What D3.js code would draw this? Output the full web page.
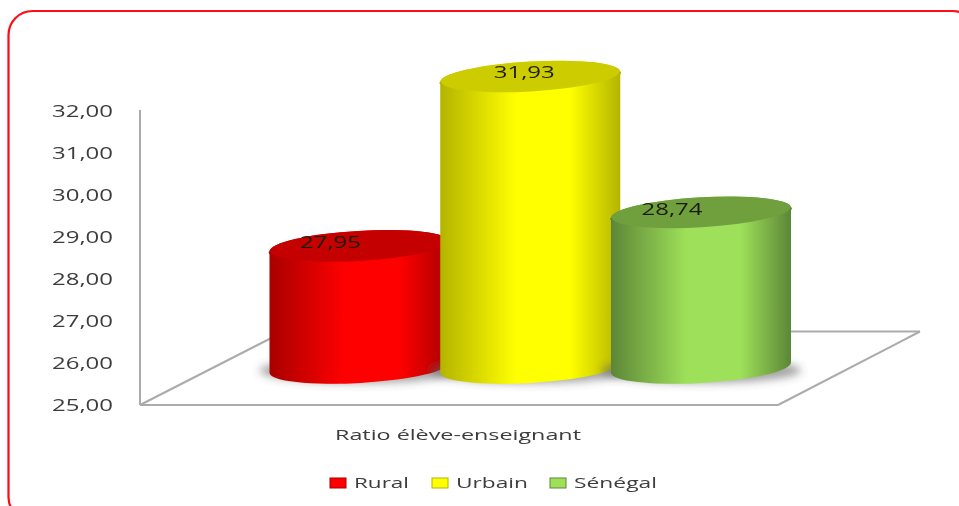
<!DOCTYPE html>
<html>
<head>
<meta charset="utf-8">
<script src="https://cdn.jsdelivr.net/npm/d3@7"></script>
<style>
  html, body { margin: 0; padding: 0; background: #fff; }
  svg { display: block; }
  text { font-family: "Open Sans", sans-serif; fill: #3c3c3c; }
</style>
</head>
<body>
<div id="chart"></div>
<script>
const categories = ["Rural", "Urbain", "Sénégal"]
const values = [27.95, 31.93, 28.74]
const valueLabels = ["27,95", "31,93", "28,74"]
const axisTicks = [25, 26, 27, 28, 29, 30, 31, 32]
const axisTitle = "Ratio élève-enseignant"

const sideEdge = ["#a80000", "#b4b400", "#5c8636"]
const sideMid = ["#ff0000", "#ffff00", "#9ee05a"]
const topFace = ["#c40000", "#cccc00", "#6f9f3e"]

function drawChart() {
  const width = 959
  const height = 506

  const wrapper = d3.select("#chart")
    .append("svg")
    .attr("width", width)
    .attr("height", height)

  const defs = wrapper.append("defs")
  defs.append("filter").attr("id", "soft")
    .append("feGaussianBlur").attr("stdDeviation", 0.6)
  defs.append("filter").attr("id", "shade")
    .attr("x", "-20%").attr("width", "140%")
    .attr("y", "-60%").attr("height", "220%")
    .append("feGaussianBlur").attr("stdDeviation", 4)

  categories.forEach((c, i) => {
    const grad = defs.append("linearGradient").attr("id", "side" + i)
    grad.append("stop").attr("offset", "0%").attr("stop-color", sideEdge[i])
    grad.append("stop").attr("offset", "42%").attr("stop-color", sideMid[i])
    grad.append("stop").attr("offset", "72%").attr("stop-color", sideMid[i])
    grad.append("stop").attr("offset", "100%").attr("stop-color", sideEdge[i])
  })

  // frame runs off the right and bottom of the picture
  wrapper.append("rect")
    .attr("x", 8.5)
    .attr("y", 11)
    .attr("width", 968)
    .attr("height", 510)
    .attr("rx", 24)
    .attr("fill", "none")
    .attr("stroke", "#ff0a14")
    .attr("stroke-width", 2.2)
    .attr("filter", "url(#soft)")

  const root = wrapper.append("g").attr("filter", "url(#soft)")

  // scales
  const axisScale = d3.scaleLinear().domain([25, 32]).range([405, 111.5])
  const barScale = d3.scaleLinear().domain([25, 32]).range([372, 74])
  const xScale = d3.scalePoint().domain(categories).range([359.5, 701])
  const barWidth = 180
  const rx = barWidth / 2
  const ry = 15.5
  const tilt = 3.3
  const lean = rx * Math.sin(tilt * Math.PI / 180)

  // floor and back wall
  const floorColor = "#ababab"
  const x0 = 140
  const y0 = 405
  const floor = [
    [[x0, 110], [x0, y0]],
    [[x0, y0], [778, y0]],
    [[778, y0], [920, 331.5]],
    [[920, 331.5], [770, 331.5]],
    [[x0, y0], [285, 331]]
  ]
  root.selectAll(".floor")
    .data(floor)
    .join("line")
    .attr("class", "floor")
    .attr("x1", d => d[0][0])
    .attr("y1", d => d[0][1])
    .attr("x2", d => d[1][0])
    .attr("y2", d => d[1][1])
    .attr("stroke", floorColor)
    .attr("stroke-width", 2)

  // y axis labels
  const yAxis = root.append("g")
    .attr("transform", "translate(113,0)")
    .call(d3.axisLeft(axisScale)
      .tickValues(axisTicks)
      .tickSize(0)
      .tickPadding(0)
      .tickFormat(d => d3.format(".2f")(d).replace(".", ",")))
  yAxis.select(".domain").remove()
  yAxis.selectAll("text")
    .style("font-size", "16px")
    .attr("textLength", 61)
    .attr("lengthAdjust", "spacingAndGlyphs")

  // cylinders
  categories.forEach((c, i) => {
    const cx = xScale(c)
    const left = cx - barWidth / 2
    const right = cx + barWidth / 2
    // base ellipse sits a little above the value scale's zero line
    const base = barScale(25) - 4.5
    const top = barScale(values[i])
    const g = root.append("g")

    g.append("ellipse")
      .attr("cx", cx)
      .attr("cy", base + 3)
      .attr("rx", rx + 10)
      .attr("ry", ry - 3)
      .attr("fill", "#666")
      .attr("opacity", 0.6)
      .attr("filter", "url(#shade)")

    const arcTo = (x2, y2, sweep) =>
      `A ${rx} ${ry} ${-tilt} 0 ${sweep} ${x2} ${y2}`

    g.append("path")
      .attr("d", `M ${left} ${top + lean} L ${left} ${base + lean}`
        + arcTo(right, base - lean, 0)
        + `L ${right} ${top - lean}`
        + arcTo(left, top + lean, 0) + "Z")
      .attr("fill", `url(#side${i})`)

    g.append("path")
      .attr("d", `M ${left} ${top + lean}`
        + arcTo(right, top - lean, 1)
        + arcTo(left, top + lean, 1) + "Z")
      .attr("fill", topFace[i])

    // bright lip on the front edge of the top
    g.append("path")
      .attr("d", `M ${left} ${top + lean}` + arcTo(right, top - lean, 0))
      .attr("fill", "none")
      .attr("stroke", `url(#side${i})`)
      .attr("stroke-width", 2)
  })

  // value labels sit left of centre, as in the original
  const labelShift = [-29, -6, -29]
  const labelRise = [4, 5, 4]
  categories.forEach((c, i) => {
    root.append("text")
      .attr("x", xScale(c) + labelShift[i])
      .attr("y", barScale(values[i]) - labelRise[i])
      .attr("dy", "0.36em")
      .attr("text-anchor", "middle")
      .attr("textLength", 61)
      .attr("lengthAdjust", "spacingAndGlyphs")
      .style("font-size", "16px")
      .style("fill", "#1e1e0a")
      .text(valueLabels[i])
  })

  // axis title
  root.append("text")
    .attr("x", 458)
    .attr("y", 435)
    .attr("dy", "0.36em")
    .attr("text-anchor", "middle")
    .attr("textLength", 246)
    .attr("lengthAdjust", "spacingAndGlyphs")
    .style("font-size", "15px")
    .text(axisTitle)

  // legend
  const legendX = d3.scaleOrdinal().domain(categories).range([330, 432, 550])
  const legendWidth = d3.scaleOrdinal().domain(categories).range([55, 72, 83])
  const legend = root.selectAll(".legend")
    .data(categories)
    .join("g")
    .attr("class", "legend")
    .attr("transform", d => `translate(${legendX(d)},483)`)
  legend.append("rect")
    .attr("y", -5)
    .attr("width", 16)
    .attr("height", 10)
    .attr("fill", (d, i) => sideMid[i])
    .attr("stroke", (d, i) => sideEdge[i])
    .attr("stroke-width", 1)
  legend.append("text")
    .attr("x", 24)
    .attr("dy", "0.36em")
    .attr("textLength", d => legendWidth(d))
    .attr("lengthAdjust", "spacingAndGlyphs")
    .style("font-size", "15px")
    .text(d => d)
}
drawChart()
</script>
</body>
</html>
